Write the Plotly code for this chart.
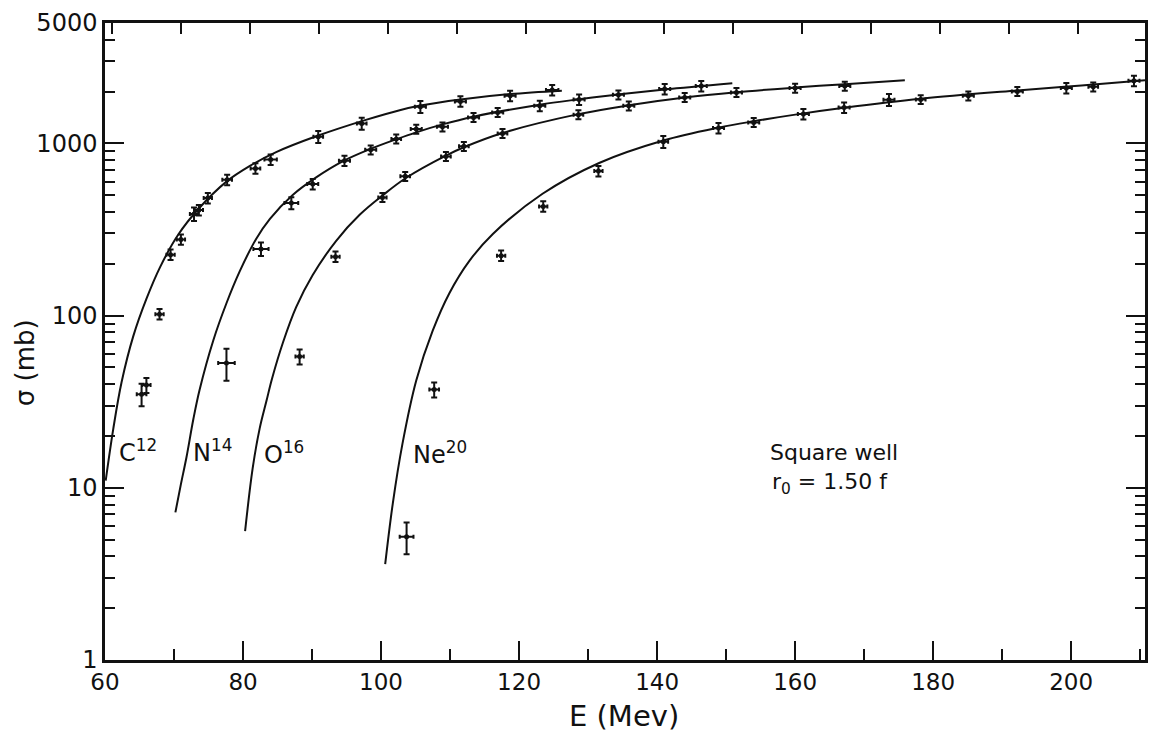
import numpy as np
import plotly.graph_objects as go

# ---------------- data ----------------
# Experimental points: energy (MeV), cross section (mb), energy half-width (MeV), relative sigma error
c12_E = [65.3, 66.0, 67.9, 69.5, 71.0, 72.9, 73.6, 74.9, 77.7, 81.8, 84.0, 90.9, 97.2, 105.7, 111.5, 118.7, 124.8]
c12_S = [35, 39.5, 102, 226, 277, 389, 410, 482, 615, 716, 807, 1094, 1307, 1634, 1754, 1892, 2043]
c12_dE = [0.7, 0.6, 0.6, 0.6, 0.6, 0.6, 0.6, 0.6, 0.7, 0.7, 0.9, 0.7, 0.7, 0.8, 0.8, 0.8, 0.9]
c12_dS = [0.15, 0.10, 0.07, 0.07, 0.07, 0.09, 0.07, 0.07, 0.07, 0.07, 0.07, 0.08, 0.08, 0.08, 0.07, 0.07, 0.07]

n14_E = [77.6, 82.6, 87.0, 90.1, 94.7, 98.5, 102.2, 105.1, 108.9, 113.4, 116.9, 123.0, 128.7, 134.4, 141.1, 146.4]
n14_S = [53, 244, 451, 581, 794, 918, 1062, 1211, 1250, 1416, 1514, 1656, 1800, 1917, 2070, 2155]
n14_dE = [1.2, 1.1, 1.0, 0.8, 0.8, 0.8, 0.7, 0.8, 0.8, 0.8, 0.8, 0.8, 0.8, 0.8, 0.8, 0.8]
n14_dS = [0.21, 0.09, 0.08, 0.07, 0.07, 0.06, 0.06, 0.06, 0.06, 0.06, 0.06, 0.07, 0.07, 0.06, 0.07, 0.07]

o16_E = [88.2, 93.4, 100.2, 103.5, 109.4, 112.0, 117.6, 128.6, 135.9, 144.0, 151.5, 160.0, 167.2]
o16_S = [57.8, 220, 486, 644, 841, 962, 1143, 1468, 1655, 1850, 1977, 2098, 2154]
o16_dE = [0.6, 0.6, 0.6, 0.7, 0.7, 0.7, 0.7, 0.7, 0.8, 0.8, 0.8, 0.8, 0.8]
o16_dS = [0.10, 0.07, 0.06, 0.06, 0.06, 0.06, 0.06, 0.06, 0.06, 0.06, 0.06, 0.06, 0.06]

ne20_E = [103.7, 107.7, 117.4, 123.5, 131.5, 140.9, 148.9, 154.0, 161.2, 167.1, 173.6, 178.2, 185.1, 192.2, 199.3, 203.2, 209.1]
ne20_S = [5.2, 37.2, 223, 431, 692, 1023, 1228, 1325, 1482, 1618, 1793, 1800, 1892, 2004, 2098, 2134, 2311]
ne20_dE = [1.0, 0.7, 0.6, 0.6, 0.6, 0.7, 0.8, 0.8, 0.8, 0.8, 0.8, 0.7, 0.8, 0.8, 0.8, 0.7, 0.8]
ne20_dS = [0.21, 0.10, 0.07, 0.07, 0.07, 0.08, 0.07, 0.06, 0.07, 0.07, 0.08, 0.06, 0.06, 0.06, 0.07, 0.06, 0.07]

# Square-well calculations (curves)
c12_curve_E = [60.1, 61.2, 62.4, 64.1, 66.0, 68.0, 70.6, 73.5, 77.6, 81.0, 84.8, 90.6, 97.8, 102.7, 105.7, 111.5, 118.7, 126.2]
c12_curve_S = [11, 22, 41, 76, 125, 192, 295, 415, 600, 740, 890, 1100, 1370, 1560, 1660, 1800, 1935, 2025]

n14_curve_E = [70.2, 71.0, 71.8, 72.8, 73.7, 75.7, 77.6, 79.5, 81.9, 83.9, 87.2, 90.6, 94.5, 98.3, 102.2, 105.1, 108.9, 113.4, 123.0, 128.7, 134.4, 141.1, 150.9]
n14_curve_S = [7.2, 10.5, 15, 25, 37, 72, 118, 180, 279, 365, 502, 635, 789, 923, 1057, 1160, 1290, 1430, 1680, 1805, 1925, 2060, 2240]

o16_curve_E = [80.3, 81.4, 82.4, 83.4, 84.2, 85.8, 87.7, 90.1, 93.5, 96.9, 100.25, 103.6, 109.4, 112.0, 117.6, 128.6, 135.9, 144.0, 151.5, 160.0, 167.2, 175.9]
o16_curve_S = [5.6, 13, 22, 32, 43, 70, 112, 172, 272, 385, 500, 630, 850, 950, 1150, 1480, 1665, 1850, 1985, 2110, 2210, 2330]

ne20_curve_E = [100.6, 101.7, 103.1, 105.1, 107.5, 109.9, 112.8, 116.2, 123.4, 131.6, 140.9, 148.9, 154.0, 160.5, 167.1, 178.2, 192.2, 201.5, 210.7]
ne20_curve_S = [3.6, 8.1, 18, 42, 82, 135, 208, 298, 510, 770, 1040, 1235, 1345, 1480, 1610, 1816, 2030, 2170, 2330]

x_tick_vals = [60, 80, 100, 120, 140, 160, 180, 200]
y_tick_vals = [1, 10, 100, 1000, 5000]
y_tick_text = ["1", "10", "100", "1000", "5000"]
y_minor_vals = [m * d for d in (1, 10, 100) for m in range(2, 10)] + [2000, 3000, 4000]

FONT = "DejaVu Sans"
INK = "#111111"

fig = go.Figure()

curves = [(c12_curve_E, c12_curve_S), (n14_curve_E, n14_curve_S),
          (o16_curve_E, o16_curve_S), (ne20_curve_E, ne20_curve_S)]
for ce, cs in curves:
    fig.add_trace(go.Scatter(x=ce, y=cs, mode="lines",
                             line=dict(color=INK, width=2, shape="spline", smoothing=1.0),
                             showlegend=False, hoverinfo="skip"))

points = [(c12_E, c12_S, c12_dE, c12_dS), (n14_E, n14_S, n14_dE, n14_dS),
          (o16_E, o16_S, o16_dE, o16_dS), (ne20_E, ne20_S, ne20_dE, ne20_dS)]
for pe, ps, pde, pds in points:
    err = [s * r for s, r in zip(ps, pds)]
    fig.add_trace(go.Scatter(
        x=pe, y=ps, mode="markers",
        marker=dict(symbol="circle", size=5, color=INK),
        error_y=dict(type="data", array=err, symmetric=True, thickness=2, width=3, color=INK),
        error_x=dict(type="data", array=pde, symmetric=True, thickness=2, width=2, color=INK),
        showlegend=False))

XR = [60, 210.7]

# trace that carries the top axis (offset tick marks)
fig.add_trace(go.Scatter(x=XR, y=[None, None], xaxis="x2", mode="lines", showlegend=False, hoverinfo="skip"))

fig.update_layout(
    width=1150, height=738,
    margin=dict(l=105, r=2, t=23, b=78),
    paper_bgcolor="white", plot_bgcolor="white",
    font=dict(family=FONT, color=INK),
    xaxis=dict(range=XR, tickvals=x_tick_vals, ticks="inside", ticklen=19, tickwidth=2, tickcolor=INK,
               showline=True, linewidth=2.5, linecolor=INK, showgrid=False, zeroline=False,
               tickfont=dict(size=23, family=FONT, color=INK),
               minor=dict(tick0=60, dtick=10, ticks="inside", ticklen=11, tickwidth=2, tickcolor=INK, showgrid=False)),
    xaxis2=dict(range=XR, overlaying="x", side="top", tick0=71, dtick=10, ticks="inside", ticklen=11,
                tickwidth=2, tickcolor=INK, showticklabels=False, showline=True, linewidth=2.5, linecolor=INK,
                showgrid=False, zeroline=False),
    yaxis=dict(type="log", range=[0, np.log10(5000) + 0.0005], tickvals=y_tick_vals, ticktext=y_tick_text,
               ticks="inside", ticklen=19, tickwidth=2, tickcolor=INK, mirror="ticks",
               showline=True, linewidth=2.5, linecolor=INK, showgrid=False, zeroline=False,
               tickfont=dict(size=24, family=FONT, color=INK),
               minor=dict(tickvals=y_minor_vals, ticks="inside", ticklen=10, tickwidth=1.5, tickcolor=INK,
                          showgrid=False)),
)

ann_font = dict(family=FONT, size=24, color=INK)
labels = [("C<sup>12</sup>", 61.7, 16.3), ("N<sup>14</sup>", 72.5, 16.3),
          ("O<sup>16</sup>", 82.7, 15.9), ("Ne<sup>20</sup>", 104.3, 15.9)]
for txt, xe, ys in labels:
    fig.add_annotation(x=xe, y=np.log10(ys), xref="x", yref="y", text=txt, showarrow=False,
                       xanchor="left", yanchor="middle", font=ann_font)

fig.add_annotation(x=165.6, y=np.log10(16.1), xref="x", yref="y", text="Square well", showarrow=False,
                   xanchor="center", yanchor="middle", font=dict(family=FONT, size=22, color=INK))
fig.add_annotation(x=165.1, y=np.log10(10.6), xref="x", yref="y", text="r<sub>0</sub> = 1.50 f", showarrow=False,
                   xanchor="center", yanchor="middle", font=dict(family=FONT, size=22, color=INK))

# axis titles
fig.add_annotation(x=(625 - 105) / 1043, y=(660 - 716) / 637, xref="paper", yref="paper", text="E (Mev)",
                   showarrow=False, xanchor="center", yanchor="middle", font=dict(family=FONT, size=29, color=INK))
fig.add_annotation(x=(25 - 105) / 1043, y=(660 - 363) / 637, xref="paper", yref="paper", text="σ (mb)",
                   textangle=-90, showarrow=False, xanchor="center", yanchor="middle",
                   font=dict(family=FONT, size=26, color=INK))

fig.write_html("out.html")
